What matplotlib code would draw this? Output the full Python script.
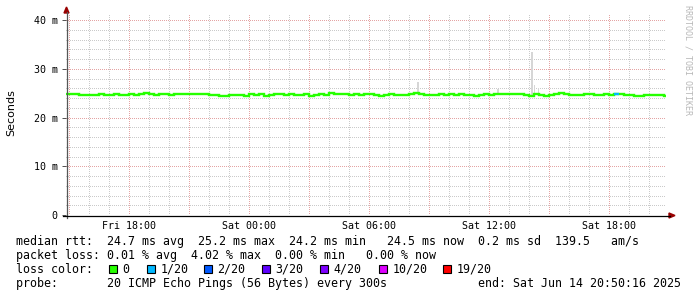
import numpy as np
import pandas as pd
import matplotlib
matplotlib.use("Agg")
import matplotlib.pyplot as plt
import matplotlib.dates as mdates
from matplotlib.patches import Polygon, Rectangle
from matplotlib.lines import Line2D
from matplotlib.ticker import FixedLocator, FixedFormatter, MultipleLocator, FuncFormatter

# ---------------- data ----------------
start_time = "2025-06-13 14:50:16"
end_time = "2025-06-14 20:50:16"
# median RTT (ms), one value every 15 minutes
median_ms = [
    24.9, 24.8, 24.8, 24.6, 24.7, 24.7, 24.6, 24.8, 24.7, 24.6,
    24.8, 24.7, 24.6, 24.8, 24.7, 24.9, 25.0, 24.8, 24.7, 24.9,
    24.8, 24.6, 24.9, 24.9, 24.8, 24.9, 24.8, 24.8, 24.8, 24.7,
    24.6, 24.5, 24.5, 24.6, 24.7, 24.7, 24.5, 24.8, 24.7, 24.8,
    24.5, 24.7, 24.9, 24.8, 24.7, 24.8, 24.7, 24.6, 24.8, 24.4,
    24.7, 24.8, 24.7, 25.0, 24.8, 24.8, 24.9, 24.7, 24.9, 24.7,
    24.8, 24.9, 24.7, 24.4, 24.6, 24.8, 24.7, 24.7, 24.6, 24.9,
    25.0, 24.9, 24.7, 24.7, 24.6, 24.8, 24.6, 24.9, 24.7, 24.8,
    24.7, 24.6, 24.4, 24.7, 24.8, 24.7, 24.8, 24.9, 24.8, 24.9,
    24.8, 24.9, 24.7, 24.5, 24.8, 24.7, 24.4, 24.7, 24.8, 25.0,
    24.9, 24.7, 24.7, 24.6, 24.9, 24.8, 24.6, 24.7, 24.8, 24.7,
    24.8, 24.8, 24.7, 24.6, 24.5, 24.4, 24.6, 24.7, 24.7, 24.6,
    24.5,
]
# lost pings out of 20 for each value
loss_count = [0] * 121
loss_count[110] = 1

# smoke spikes (max ping) : time and top value (ms)
spike_times = ["2025-06-14 08:26", "2025-06-14 12:26", "2025-06-14 14:08",
               "2025-06-14 14:16", "2025-06-14 14:28"]
spike_top_ms = [27.3, 25.8, 33.5, 26.7, 26.0]

y_tick_values = [0, 10, 20, 30, 40]
y_tick_labels = ["0", "10 m", "20 m", "30 m", "40 m"]

loss_levels = [0, 1, 2, 3, 4, 10, 19]
loss_labels = ["0", "1/20", "2/20", "3/20", "4/20", "10/20", "19/20"]
loss_colors = ["#26ff00", "#00b8ff", "#0059ff", "#5e00ff", "#7e00ff", "#dd00ff", "#ff0000"]

legend_rtt = "median rtt:  24.7 ms avg  25.2 ms max  24.2 ms min   24.5 ms now  0.2 ms sd  139.5   am/s"
legend_loss = "packet loss: 0.01 % avg  4.02 % max  0.00 % min   0.00 % now"
legend_color_title = "loss color:"
legend_probe = "probe:       20 ICMP Echo Pings (56 Bytes) every 300s"
legend_end = "end: Sat Jun 14 20:50:16 2025"

# ---------------- figure ----------------
W, H = 697, 297
fig = plt.figure(figsize=(W / 100, H / 100), dpi=100)
fig.patch.set_facecolor("white")

def fx(x):
    return x / W

def fy(y):
    return 1 - y / H

# plot area in pixels: left 66, right 666, top 13, bottom 215
ax = fig.add_axes([fx(66), fy(215), 600 / W, 202 / H])
ax.set_facecolor("white")

times = pd.date_range(start_time, periods=len(median_ms), freq="15min")
tnum = mdates.date2num(times.to_pydatetime())
t0 = mdates.date2num(pd.Timestamp(start_time).to_pydatetime())
t1 = mdates.date2num(pd.Timestamp(end_time).to_pydatetime())

ax.set_xlim(t0, t1)
ax.set_ylim(0, 202 / 4.875)

# smoke
sp_t = mdates.date2num(pd.to_datetime(spike_times).to_pydatetime())
med = np.array(median_ms)
sp_base = np.array([med[np.argmin(np.abs(tnum - s))] for s in sp_t])
ax.bar(sp_t, np.array(spike_top_ms) - sp_base, bottom=sp_base,
       width=300 / 86400, color="#d6d6d6", zorder=2, linewidth=0)

# median line, coloured by loss
ax.step(tnum, median_ms, where="mid", color=loss_colors[0], lw=1.7, zorder=3,
        solid_joinstyle="miter")
col_map = dict(zip(loss_levels, loss_colors))
half = 7.5 / 1440
for t, v, l in zip(tnum, median_ms, loss_count):
    if l > 0:
        ax.plot([t - half, t + half], [v, v], color=col_map[l], lw=1.7,
                zorder=4, solid_capstyle="butt")

# grid
ax.xaxis.set_major_locator(mdates.HourLocator(byhour=range(0, 24, 3)))
ax.xaxis.set_minor_locator(mdates.HourLocator())

def xfmt(x, pos):
    d = mdates.num2date(x)
    return d.strftime("%a %H:%M") if d.hour % 6 == 0 else ""

ax.xaxis.set_major_formatter(FuncFormatter(xfmt))
ax.yaxis.set_major_locator(FixedLocator(y_tick_values))
ax.yaxis.set_major_formatter(FixedFormatter(y_tick_labels))
ax.yaxis.set_minor_locator(MultipleLocator(2))

dot = (0, (1, 2))
ax.grid(which="major", color="#e4a4a4", linestyle=dot, lw=0.72, zorder=1, antialiased=False)
ax.grid(which="minor", color="#cacaca", linestyle=dot, lw=0.72, zorder=1, antialiased=False)
ax.set_axisbelow(True)

for s in ax.spines.values():
    s.set_visible(False)

mono = "DejaVu Sans Mono"
ax.tick_params(axis="x", which="both", length=0, pad=4, labelsize=7.2, labelcolor="#000000")
ax.tick_params(axis="y", which="major", length=3, width=0.72, color="#555555", pad=3,
               labelsize=7.2, labelcolor="#000000")
ax.tick_params(axis="y", which="minor", length=0)
for lab in ax.get_xticklabels() + ax.get_yticklabels():
    lab.set_family(mono)

# axis lines and arrows
fig.add_artist(Line2D([fx(66.5), fx(66.5)], [fy(218), fy(12)], color="#555555", lw=0.9))
fig.add_artist(Line2D([fx(63), fx(670)], [fy(215.5), fy(215.5)], color="#000000", lw=0.9))
fig.add_artist(Polygon([(fx(64), fy(13)), (fx(69), fy(13)), (fx(66.5), fy(7))],
                       closed=True, color="#990000", transform=fig.transFigure))
fig.add_artist(Polygon([(fx(669), fy(213)), (fx(669), fy(218)), (fx(675), fy(215.5))],
                       closed=True, color="#990000", transform=fig.transFigure))

# y label
fig.text(fx(11), fy(113), "Seconds", rotation=90, ha="center", va="center",
         fontsize=8, family="DejaVu Sans", color="#000000")
# watermark
fig.text(fx(688), fy(60), "RRDTOOL / TOBI OETIKER", rotation=-90, ha="center", va="center",
         fontsize=6, family=mono, color="#b8b8b8")

# legend
fs = 8.4
lx = 16
fig.text(fx(lx), fy(245), legend_rtt, fontsize=fs, family=mono, va="baseline", ha="left")
fig.text(fx(lx), fy(259), legend_loss, fontsize=fs, family=mono, va="baseline", ha="left")
fig.text(fx(lx), fy(273), legend_color_title, fontsize=fs, family=mono, va="baseline", ha="left")

sq_x = [108, 146, 203, 261, 319, 378, 442]   # layout positions of the colour boxes (px)
for x0, c, lab in zip(sq_x, loss_colors, loss_labels):
    fig.add_artist(Rectangle((fx(x0 + 0.5), fy(273)), 8.5 / W, 8.5 / H, transform=fig.transFigure,
                             facecolor=c, edgecolor="black", lw=0.8))
    fig.text(fx(x0 + 14.5), fy(273), lab, fontsize=fs, family=mono, va="baseline", ha="left")

fig.text(fx(lx), fy(287), legend_probe, fontsize=fs, family=mono, va="baseline", ha="left")
fig.text(fx(478), fy(287), legend_end, fontsize=fs, family=mono, va="baseline", ha="left")

fig.savefig("out.png", dpi=100, facecolor="white")
